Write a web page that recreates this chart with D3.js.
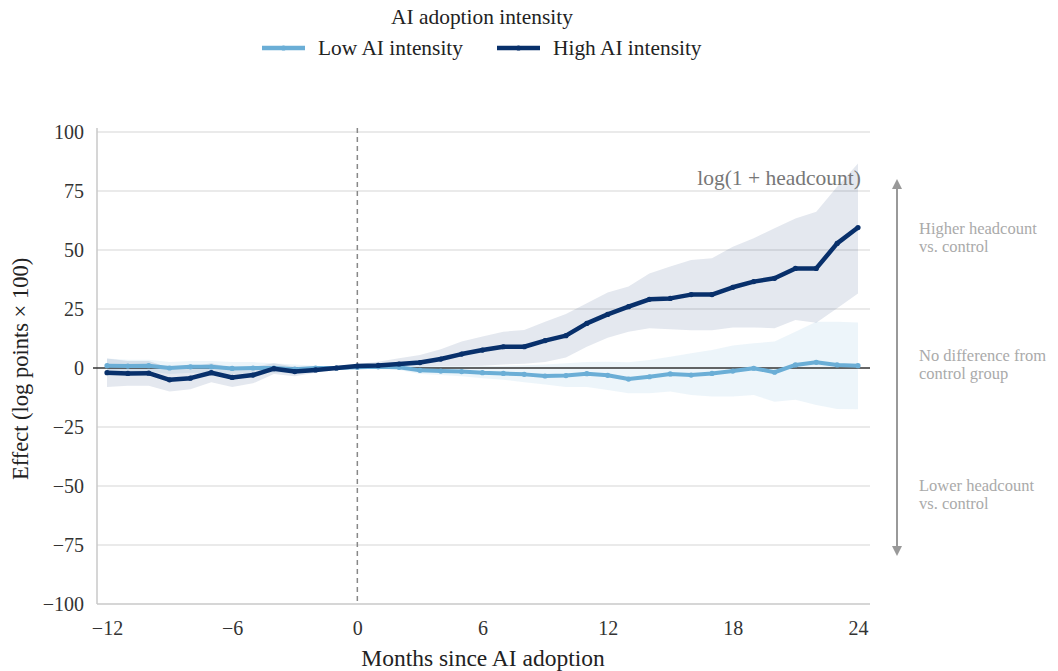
<!DOCTYPE html>
<html>
<head>
<meta charset="utf-8">
<script src="https://cdn.jsdelivr.net/npm/d3@7"></script>
<style>
  body { margin: 0; background: #fff; }
  text { font-family: "Liberation Serif", "DejaVu Serif", serif; }
</style>
</head>
<body>
<div id="chart"></div>
<script>
// months relative to AI adoption
var months = [-12,-11,-10,-9,-8,-7,-6,-5,-4,-3,-2,-1,0,1,2,3,4,5,6,7,8,9,10,11,12,13,14,15,16,17,18,19,20,21,22,23,24];

// high AI intensity: estimate + 95% band
var highEst = [-2,-2.3,-2.2,-5,-4.3,-2,-4,-3,-0.3,-1.5,-0.8,0,0.8,
  1.1,1.7,2.3,3.8,5.9,7.6,9,9,11.6,13.7,18.9,22.7,
  26,29.1,29.5,31.1,31.1,34.2,36.6,38,42.2,42.2,52.8,59.5];
var highHi = [4,3,3,0,0.5,2,0,0.5,2,0.5,0.5,0,1.7,
  2.7,4.1,5.5,7.9,11.2,13.3,15.4,16.1,19.6,22.9,27.4,32,
  34.5,40,43,45.8,46.5,51.4,55,59.2,63.4,66.2,76.8,86.7];
var highLo = [-8,-7.5,-7.5,-10,-9,-6,-8,-6.5,-2.5,-3.5,-2,0,0,
  0.3,0.5,0.6,0.8,0.9,1,1.5,1.8,2.5,4.5,9,12.8,
  15.4,16.8,16.4,16,16,17.2,17.2,16.8,20.3,19.2,25.3,31.6];

// low AI intensity
var lowEst = [1,0.8,1,0,0.5,0.5,-0.2,0,0,-0.5,0,0,0.3,
  0.5,0.3,-1,-1.3,-1.5,-2,-2.3,-2.7,-3.4,-3.2,-2.4,-3.1,
  -4.7,-3.7,-2.5,-3,-2.3,-1.3,-0.1,-1.8,1.3,2.4,1.3,1];
var lowHi = [4,3.5,3.5,2.5,3,3,2.5,2.5,2,1.5,1,0,1,
  1.2,1.5,1,0.8,0.8,0.8,1,1.2,1.5,2,2.5,2.7,
  2.4,3.4,4.8,6.2,7.6,9.5,10.5,11.2,15.4,19.6,19.6,19.3];
var lowLo = [-2,-2,-1.5,-2.5,-2,-2,-2.5,-2,-2,-2,-1,0,0,
  -0.3,-0.8,-2.5,-3,-3.5,-4.3,-5,-6,-7,-8,-8,-9.3,
  -10.7,-10.7,-10,-11.4,-12.1,-12.1,-11.4,-14.3,-13.5,-15.7,-17.4,-17.5];

var xTicks = [-12,-6,0,6,12,18,24];
var yTicks = [-100,-75,-50,-25,0,25,50,75,100];

var seriesNames = ["Low AI intensity", "High AI intensity"];
var lowColor = "#6baed6", highColor = "#08306b";

var width = 1058, height = 671;
var plotLeft = 97, plotRight = 870;

var svg = d3.select("#chart").append("svg")
  .attr("width", width)
  .attr("height", height);

var x = d3.scaleLinear().domain([-12, 24]).range([107, 858]);
var y = d3.scaleLinear().domain([-100, 100]).range([604, 132]);

// gridlines
svg.append("g").selectAll("line")
  .data(yTicks.filter(function(d){ return d !== 0 && d !== -100; }))
  .enter().append("line")
  .attr("x1", plotLeft).attr("x2", plotRight)
  .attr("y1", function(d){ return y(d); })
  .attr("y2", function(d){ return y(d); })
  .attr("stroke", "#e3e3e3").attr("stroke-width", 1.5);

// bottom + left axis lines
svg.append("line")
  .attr("x1", plotLeft).attr("x2", plotRight)
  .attr("y1", y(-100)).attr("y2", y(-100))
  .attr("stroke", "#c8c8c8").attr("stroke-width", 1.5);
svg.append("line")
  .attr("x1", plotLeft).attr("x2", plotLeft)
  .attr("y1", 128).attr("y2", y(-100))
  .attr("stroke", "#c8c8c8").attr("stroke-width", 1.5);

// y tick labels
var yAxis = d3.axisLeft(y).tickValues(yTicks).tickSize(0).tickPadding(0);
var gy = svg.append("g").attr("transform", "translate(84,0)").call(yAxis);
gy.select(".domain").remove();
gy.selectAll("text")
  .attr("font-family", "Liberation Serif")
  .attr("font-size", 20)
  .attr("fill", "#333");

// x tick labels
var xAxis = d3.axisBottom(x).tickValues(xTicks).tickSize(0).tickPadding(0);
var gx = svg.append("g").attr("transform", "translate(0,621)").call(xAxis);
gx.select(".domain").remove();
gx.selectAll("text")
  .attr("font-family", "Liberation Serif")
  .attr("font-size", 20)
  .attr("fill", "#333");

// confidence bands
var band = function(lo, hi) {
  return d3.area()
    .x(function(d, i){ return x(months[i]); })
    .y0(function(d, i){ return y(lo[i]); })
    .y1(function(d, i){ return y(hi[i]); })(months);
};
svg.append("path").attr("d", band(lowLo, lowHi))
  .attr("fill", lowColor).attr("fill-opacity", 0.12);
svg.append("path").attr("d", band(highLo, highHi))
  .attr("fill", highColor).attr("fill-opacity", 0.11);

// zero line
svg.append("line")
  .attr("x1", plotLeft - 4).attr("x2", plotRight)
  .attr("y1", y(0)).attr("y2", y(0))
  .attr("stroke", "#333").attr("stroke-width", 1.5);

// adoption month
svg.append("line")
  .attr("x1", x(0)).attr("x2", x(0))
  .attr("y1", 128).attr("y2", y(-100))
  .attr("stroke", "#888").attr("stroke-width", 1.5)
  .attr("stroke-dasharray", "5,4");

// series lines
var line = d3.line()
  .x(function(d, i){ return x(months[i]); })
  .y(function(d){ return y(d); });

[[lowEst, lowColor, 4], [highEst, highColor, 4.5]].forEach(function(s) {
  svg.append("path").attr("d", line(s[0]))
    .attr("fill", "none").attr("stroke", s[1])
    .attr("stroke-width", s[2]).attr("stroke-linejoin", "round");
  svg.append("g").selectAll("circle")
    .data(s[0]).enter().append("circle")
    .attr("cx", function(d, i){ return x(months[i]); })
    .attr("cy", function(d){ return y(d); })
    .attr("r", 2.6)
    .attr("fill", s[1]);
});

// axis titles
svg.append("text")
  .attr("x", 483).attr("y", 666)
  .attr("text-anchor", "middle")
  .attr("font-size", 23.5).attr("fill", "#222")
  .text("Months since AI adoption");
svg.append("text")
  .attr("transform", "translate(28," + 369 + ") rotate(-90)")
  .attr("text-anchor", "middle")
  .attr("font-size", 22.5).attr("fill", "#222")
  .text("Effect (log points \u00d7 100)");

// outcome label
svg.append("text")
  .attr("x", 861).attr("y", 185)
  .attr("text-anchor", "end")
  .attr("font-size", 21.5).attr("fill", "#777")
  .text("log(1 + headcount)");

// legend
svg.append("text")
  .attr("x", 482).attr("y", 24)
  .attr("text-anchor", "middle")
  .attr("font-size", 21.4).attr("fill", "#222")
  .text("AI adoption intensity");
var legendX = [262, 497];
seriesNames.forEach(function(name, i) {
  var c = i === 0 ? lowColor : highColor;
  var g = svg.append("g").attr("transform", "translate(" + legendX[i] + ",48)");
  g.append("line").attr("x1", 0).attr("x2", 43)
    .attr("stroke", c).attr("stroke-width", 4.5);
  g.append("circle").attr("cx", 21.5).attr("r", 2.6).attr("fill", c);
  g.append("text").attr("x", 56).attr("y", 7)
    .attr("font-size", 21.4).attr("fill", "#222")
    .text(name);
});

// right annotation arrow
var defs = svg.append("defs");
defs.append("marker").attr("id", "ah")
  .attr("viewBox", "0 0 10 10").attr("refX", 5).attr("refY", 5)
  .attr("markerWidth", 5).attr("markerHeight", 5)
  .attr("orient", "auto-start-reverse")
  .append("path").attr("d", "M0,0 L10,5 L0,10 Z").attr("fill", "#999");
svg.append("line")
  .attr("x1", 897).attr("x2", 897)
  .attr("y1", 184).attr("y2", 551)
  .attr("stroke", "#999").attr("stroke-width", 2)
  .attr("marker-start", "url(#ah)").attr("marker-end", "url(#ah)");

var notes = [
  ["Higher headcount", "vs. control", 234],
  ["No difference from", "control group", 361],
  ["Lower headcount", "vs. control", 491]
];
notes.forEach(function(n) {
  var t = svg.append("text").attr("x", 919).attr("y", n[2])
    .attr("font-size", 16.5).attr("fill", "#aaa");
  t.append("tspan").attr("x", 919).text(n[0]);
  t.append("tspan").attr("x", 919).attr("dy", 17.5).text(n[1]);
});
</script>
</body>
</html>
